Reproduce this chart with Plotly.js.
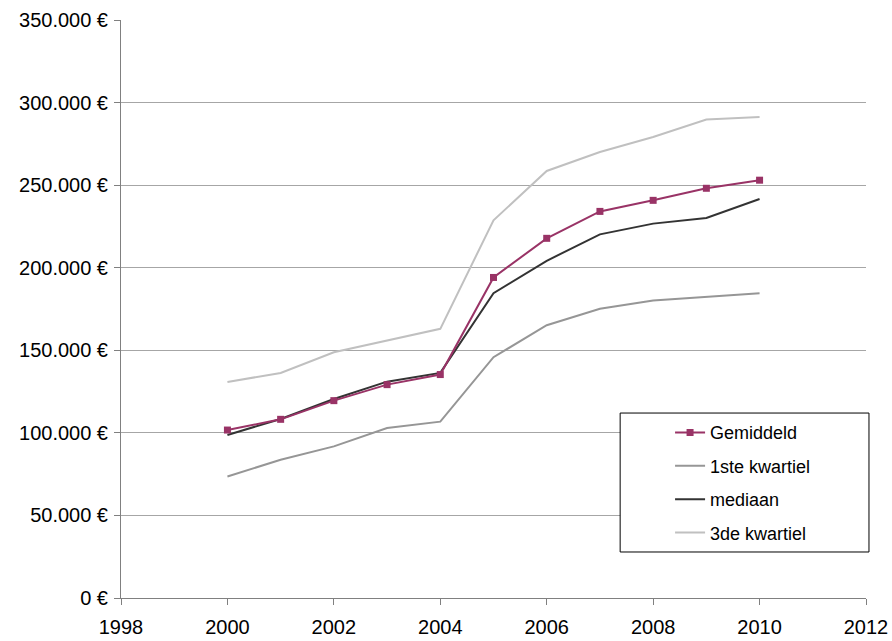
<!DOCTYPE html>
<html>
<head>
<meta charset="utf-8">
<script src="https://cdn.plot.ly/plotly-3.0.1.min.js"></script>
<style>html,body{margin:0;padding:0;background:#fff;}#chart{width:892px;height:641px;}</style>
</head>
<body>
<div id="chart"></div>
<script>
const years = [2000, 2001, 2002, 2003, 2004, 2005, 2006, 2007, 2008, 2009, 2010];
const gemiddeld = [101700, 108200, 119500, 129200, 135300, 194100, 217800, 234100, 240800, 248100, 253000];
const kwartiel1 = [73600, 83700, 91800, 102900, 106800, 145800, 165200, 175100, 180100, 182200, 184600];
const mediaan = [98700, 108400, 120500, 131000, 136300, 184600, 204200, 220200, 226700, 230100, 241600];
const kwartiel3 = [130800, 136300, 148800, 155900, 163000, 228700, 258600, 270100, 279200, 289700, 291200];
const seriesNames = ['Gemiddeld', '1ste kwartiel', 'mediaan', '3de kwartiel'];
const xTicks = [1998, 2000, 2002, 2004, 2006, 2008, 2010, 2012];

const font = 'Liberation Sans, Arial, sans-serif';

const traces = [
  {x: years, y: kwartiel1, name: seriesNames[1], mode: 'lines', line: {color: '#969696', width: 2}, legendrank: 2, legendgroup: 'b'},
  {x: years, y: kwartiel3, name: seriesNames[3], mode: 'lines', line: {color: '#C0C0C0', width: 2}, legendrank: 4, legendgroup: 'd'},
  {x: years, y: mediaan, name: seriesNames[2], mode: 'lines', line: {color: '#333333', width: 2}, legendrank: 3, legendgroup: 'c'},
  {x: years, y: gemiddeld, name: seriesNames[0], mode: 'lines+markers', line: {color: '#993366', width: 2}, marker: {symbol: 'square', size: 7, color: '#993366'}, legendrank: 1, legendgroup: 'a'}
];

const layout = {
  width: 892, height: 641,
  margin: {l: 121, r: 26, t: 20, b: 43},
  paper_bgcolor: '#fff', plot_bgcolor: '#fff',
  separators: ',.',
  font: {family: font, size: 19, color: '#000'},
  showlegend: true,
  xaxis: {
    range: [1998, 2012], tickvals: xTicks, ticktext: xTicks.map(String),
    showgrid: false, zeroline: false, showline: true, linecolor: '#808080', linewidth: 1,
    ticks: 'outside', ticklen: 6, tickcolor: '#808080', ticklabelstandoff: 5,
    tickfont: {family: font, size: 20, color: '#000'}
  },
  yaxis: {
    range: [0, 350000], dtick: 50000, tickformat: ',d', ticksuffix: ' €',
    showgrid: true, gridcolor: '#A6A6A6', gridwidth: 1, zeroline: false,
    showline: true, linecolor: '#808080', linewidth: 1,
    ticks: 'outside', ticklen: 6, tickcolor: '#808080', ticklabelstandoff: 2,
    tickfont: {family: font, size: 20, color: '#000'}
  },
  legend: {
    x: 0.737, y: 0.318, xanchor: 'left', yanchor: 'top',
    bgcolor: 'rgba(0,0,0,0)', borderwidth: 0,
    traceorder: 'grouped', tracegroupgap: 7,
    font: {family: font, size: 18, color: '#000'}
  },
  shapes: [{
    type: 'rect', xref: 'paper', yref: 'paper',
    x0: 0.670, x1: 1.004, y0: 0.0796, y1: 0.320,
    line: {color: '#000', width: 1}, fillcolor: '#fff', layer: 'above'
  }]
};

Plotly.newPlot('chart', traces, layout, {displayModeBar: false, staticPlot: true});
</script>
</body>
</html>
